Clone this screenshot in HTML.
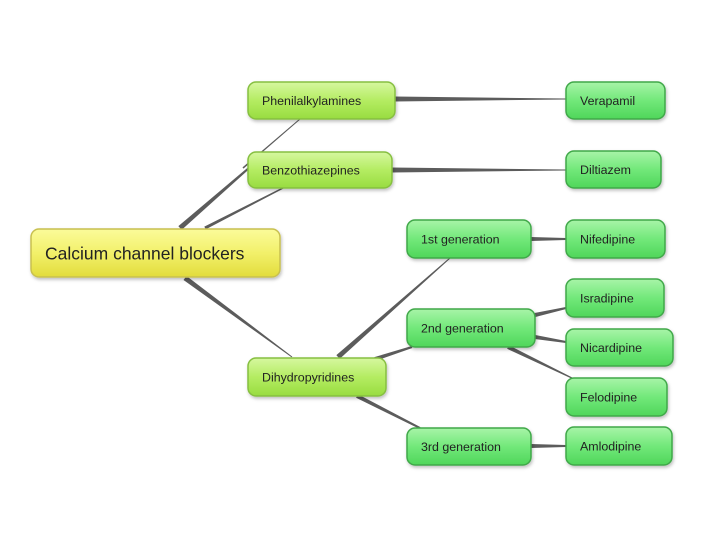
<!DOCTYPE html>
<html><head><meta charset="utf-8"><style>
html,body{margin:0;padding:0;background:#fff;width:720px;height:540px;overflow:hidden}
svg{display:block}
text{font-family:"Liberation Sans",sans-serif;fill:#222}
</style></head><body>
<svg id="s" width="720" height="540" viewBox="0 0 720 540">
<defs>
<linearGradient id="gy" x1="0" y1="0" x2="0" y2="1"><stop offset="0" stop-color="#fbfb9a"/><stop offset="0.5" stop-color="#f2f06a"/><stop offset="1" stop-color="#e2dc3c"/></linearGradient>
<linearGradient id="gl" x1="0" y1="0" x2="0" y2="1"><stop offset="0" stop-color="#d6f7a0"/><stop offset="0.5" stop-color="#b4ec62"/><stop offset="1" stop-color="#98dc40"/></linearGradient>
<linearGradient id="gg" x1="0" y1="0" x2="0" y2="1"><stop offset="0" stop-color="#a8f4a8"/><stop offset="0.5" stop-color="#72e87a"/><stop offset="1" stop-color="#4fd65a"/></linearGradient>
<filter id="sh" x="-10%" y="-20%" width="130%" height="150%"><feDropShadow dx="1" dy="2" stdDeviation="1.5" flood-color="#000" flood-opacity="0.25"/></filter>
</defs>
<g id="lines" fill="#5a5a5a"></g>
<g id="boxes"></g>
</svg>
<script>
var L=document.getElementById('lines'),B=document.getElementById('boxes'),NS='http://www.w3.org/2000/svg';
function tl(x1,y1,x2,y2,w1,w2){var dx=x2-x1,dy=y2-y1,l=Math.hypot(dx,dy),nx=-dy/l,ny=dx/l;
var p=document.createElementNS(NS,'polygon');
p.setAttribute('points',[x1+nx*w1/2,y1+ny*w1/2,x2+nx*w2/2,y2+ny*w2/2,x2-nx*w2/2,y2-ny*w2/2,x1-nx*w1/2,y1-ny*w1/2].join(' '));
p.setAttribute('fill','#5c5c5c');L.appendChild(p);}
tl(180,228,250,167,5,2);
tl(243,168,300,119,1.5,1);
tl(205,228,283,188,3,1.5);
tl(185,278,292,357,5,1);
tl(395,99,566,99,5,1);
tl(392,170,566,170,5,1);
tl(338,357,450,258,5,1);
tl(375,359,412,347,4,2);
tl(357,396,420,428,4,2);
tl(531,239,566,239,4,2);
tl(535,315,566,308,4,2);
tl(535,337,566,342,4,2);
tl(508,347,576,380,4,1);
tl(531,446,566,446,4,2);
function bx(x,y,w,h,g,t,fs,sw,stroke){var r=document.createElementNS(NS,'rect');
r.setAttribute('x',x);r.setAttribute('y',y);r.setAttribute('width',w);r.setAttribute('height',h);r.setAttribute('rx',8);
r.setAttribute('fill','url(#'+g+')');r.setAttribute('stroke',stroke);r.setAttribute('stroke-width',sw);r.setAttribute('filter','url(#sh)');B.appendChild(r);
var tx=document.createElementNS(NS,'text');tx.setAttribute('x',x+14);tx.setAttribute('y',y+h/2+fs*0.36);tx.setAttribute('font-size',fs);tx.textContent=t;B.appendChild(tx);}
var f=12.4;
bx(31,229,249,48,'gy','Calcium channel blockers',17.5,1.5,'#c8c050');
bx(248,82,147,37,'gl','Phenilalkylamines',f,1.5,'#86bf40');
bx(248,152,144,36,'gl','Benzothiazepines',f,1.5,'#86bf40');
bx(248,358,138,38,'gl','Dihydropyridines',f,1.5,'#86bf40');
bx(407,220,124,38,'gg','1st generation',f,1.5,'#3fa848');
bx(407,309,128,38,'gg','2nd generation',f,1.5,'#3fa848');
bx(407,428,124,37,'gg','3rd generation',f,1.5,'#3fa848');
bx(566,82,99,37,'gg','Verapamil',f,1.5,'#3fa848');
bx(566,151,95,37,'gg','Diltiazem',f,1.5,'#3fa848');
bx(566,220,99,38,'gg','Nifedipine',f,1.5,'#3fa848');
bx(566,279,98,38,'gg','Isradipine',f,1.5,'#3fa848');
bx(566,329,107,37,'gg','Nicardipine',f,1.5,'#3fa848');
bx(566,378,101,38,'gg','Felodipine',f,1.5,'#3fa848');
bx(566,427,106,38,'gg','Amlodipine',f,1.5,'#3fa848');
</script>
</body></html>
